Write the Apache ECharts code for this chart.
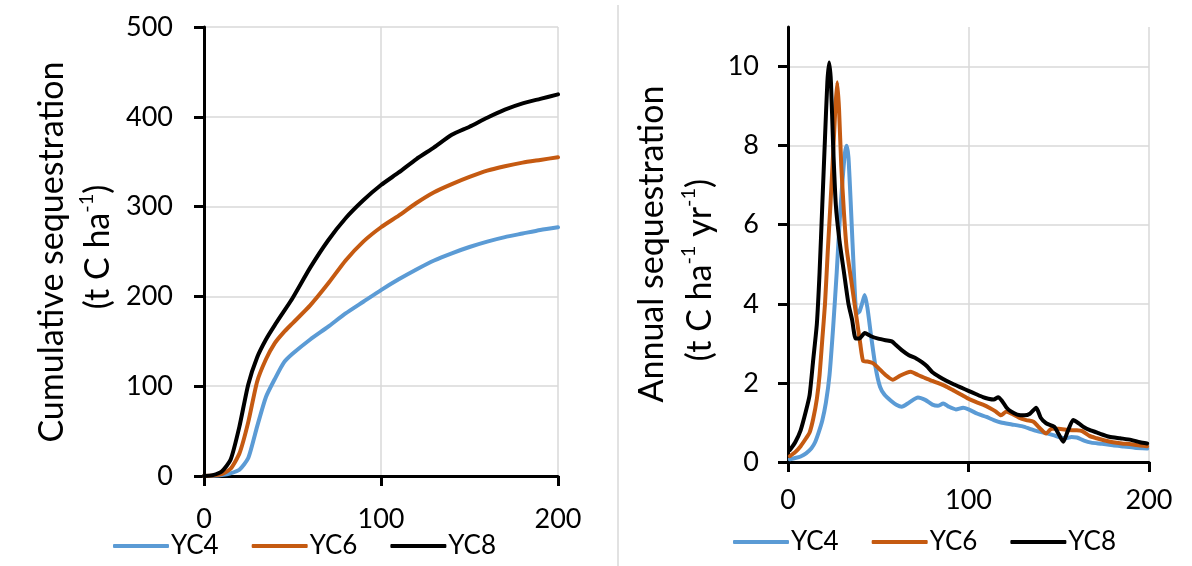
<!DOCTYPE html>
<html>
<head>
<meta charset="utf-8">
<script src="https://cdn.jsdelivr.net/npm/echarts@6/dist/echarts.min.js"></script>
<style>
html,body{margin:0;padding:0;background:#fff;}
#chart{width:1192px;height:566px;}
</style>
</head>
<body>
<div id="chart"></div>
<script>
// ---------- DATA ----------
const seriesNames = ['YC4', 'YC6', 'YC8'];
const xTicks = [0, 100, 200];
const cumYTicks = [0, 100, 200, 300, 400, 500];
const annYTicks = [0, 2, 4, 6, 8, 10];

// Cumulative sequestration (t C ha-1)
const cumYears = [0, 5, 10, 15, 20, 25, 30, 35, 40, 45, 50, 60, 70, 80, 90, 100, 110, 120, 130, 140, 150, 160, 170, 180, 190, 200];
const cumYC4 = [0, 0.2, 1, 3, 7, 20, 55, 88, 108, 126, 136, 152, 166, 181, 194, 207, 219, 230, 240, 248, 255, 261, 266, 270, 274, 277];
const cumYC6 = [0, 0.5, 2, 8, 25, 60, 105, 130, 148, 160, 170, 190, 214, 240, 261, 277, 290, 304, 316, 325, 333, 340, 345, 349, 352, 355];
const cumYC8 = [0, 1, 5, 18, 55, 102, 132, 152, 168, 183, 198, 232, 262, 287, 307, 324, 338, 353, 366, 380, 389, 399, 408, 415, 420, 425];

// Annual sequestration (t C ha-1 yr-1)
const annYearsYC4 = [1, 4, 7, 10, 13, 15, 17, 19, 21, 23, 25, 27, 28.5, 30, 31.5, 32.5, 33.5, 35, 36.5, 38, 39.5, 41, 42.5, 44, 46, 48.5, 51, 53.5, 57, 60, 63, 67, 72, 76, 80, 83, 86, 89, 93, 97, 100, 105, 110, 114, 118, 124, 130, 134, 138, 143, 147, 151, 154, 157, 160, 164, 168, 174, 180, 186, 192, 199];
const annYC4 = [0.07, 0.1, 0.14, 0.22, 0.35, 0.5, 0.75, 1.05, 1.5, 2.2, 3.4, 4.8, 6.0, 7.0, 7.8, 8.0, 7.7, 6.3, 4.8, 3.75, 3.8, 4.0, 4.22, 3.9, 3.2, 2.4, 1.9, 1.7, 1.55, 1.45, 1.4, 1.5, 1.63, 1.57, 1.45, 1.42, 1.48, 1.4, 1.33, 1.37, 1.33, 1.22, 1.14, 1.06, 1.0, 0.95, 0.9, 0.84, 0.78, 0.73, 0.68, 0.62, 0.6, 0.63, 0.62, 0.54, 0.49, 0.46, 0.42, 0.39, 0.36, 0.34];

const annYearsYC6 = [1, 4, 7, 10, 12, 14, 16, 17.5, 19, 20.5, 22, 23.5, 25, 26.3, 27.3, 28.3, 29.5, 31, 32.5, 35, 37.5, 40, 41.7, 44, 47, 50, 54, 58, 62, 66, 68, 72, 76, 80, 84, 88, 92, 96, 100, 104, 108, 112, 115, 118, 121, 124, 128, 132, 136, 139, 143, 146, 150, 155, 160, 163, 167, 171, 175, 180, 185, 190, 195, 199];
const annYC6 = [0.15, 0.25, 0.4, 0.6, 0.75, 1.1, 1.6, 2.2, 3.1, 4.0, 5.3, 6.5, 7.8, 9.0, 9.6, 8.9, 7.5, 6.3, 5.4, 4.6, 3.8, 3.0, 2.55, 2.54, 2.5, 2.38, 2.2, 2.08, 2.18, 2.26, 2.28, 2.2, 2.12, 2.05, 1.98, 1.9, 1.8, 1.7, 1.6, 1.52, 1.45, 1.36, 1.28, 1.18, 1.28, 1.22, 1.12, 1.06, 1.02, 0.88, 0.72, 0.84, 0.84, 0.81, 0.8, 0.78, 0.66, 0.6, 0.55, 0.5, 0.47, 0.45, 0.42, 0.4];

const annYearsYC8 = [1, 4, 7, 10, 12, 14, 16, 17.5, 19, 20.5, 21.8, 22.8, 23.8, 25, 26.5, 28.5, 31, 33.5, 35.5, 37.5, 39.5, 42.5, 46, 50, 54, 57.5, 60, 63, 67, 71, 74, 77, 80, 84, 88, 92, 96, 100, 104, 108, 111, 114, 116.5, 118.5, 121, 123.5, 127, 131, 134, 137.5, 140, 143, 147.5, 150, 152.5, 155, 158, 161, 164, 167, 172, 178, 184, 190, 195, 199];
const annYC8 = [0.3, 0.5, 0.8, 1.3, 1.7, 2.6, 3.5, 4.8, 6.5, 8.2, 9.6, 10.1, 9.6, 8.0, 6.5, 5.6, 4.8, 4.0, 3.6, 3.12, 3.12, 3.26, 3.18, 3.12, 3.08, 3.05, 2.95, 2.83, 2.7, 2.62, 2.53, 2.42, 2.27, 2.15, 2.05, 1.96, 1.88, 1.8, 1.72, 1.64, 1.6, 1.58, 1.64, 1.55, 1.38, 1.28, 1.2, 1.18, 1.22, 1.37, 1.12, 0.98, 0.89, 0.7, 0.51, 0.78, 1.06, 0.98, 0.88, 0.81, 0.73, 0.64, 0.6, 0.56, 0.5, 0.47];

// ---------- STYLE ----------
const colors = ['#5B9BD5', '#C55A11', '#000000'];
const FONT = 'Lato';
const pairs = (xs, ys) => xs.map((x, i) => [x, ys[i]]);

const chart = echarts.init(document.getElementById('chart'), null, {renderer: 'canvas'});

function xAxisCfg(gridIndex, margin) {
  return {
    type: 'value', gridIndex: gridIndex, min: xTicks[0], max: xTicks[xTicks.length - 1], interval: 100,
    axisLine: {show: true, onZero: false, lineStyle: {color: '#000', width: 3}},
    axisTick: {show: true, inside: false, length: 10, lineStyle: {color: '#000', width: 3}},
    axisLabel: {color: '#000', fontSize: 27, fontFamily: FONT, margin: margin},
    splitLine: {show: true, lineStyle: {color: '#d9d9d9', width: 1.5}}
  };
}

const seriesStyle = (i) => ({
  type: 'line', showSymbol: false, symbol: 'none', smooth: 0.2,
  lineStyle: {color: colors[i], width: 4, cap: 'round', join: 'round'},
  itemStyle: {color: colors[i]},
  emphasis: {disabled: true}
});

const legendCfg = (left, top) => ({
  data: seriesNames, left: left, top: top, orient: 'horizontal',
  icon: 'roundRect', itemWidth: 56, itemHeight: 4, itemGap: 33, padding: 0,
  textStyle: {color: '#000', fontSize: 26, fontFamily: FONT, padding: [0, 0, 0, -3]}
});

const option = {
  backgroundColor: '#fff',
  animation: false,
  textStyle: {fontFamily: FONT},
  grid: [
    {left: 204, right: 634, top: 27, bottom: 90},
    {left: 788, right: 43, top: 27, bottom: 104}
  ],
  legend: [legendCfg(113, 533), legendCfg(733, 529)],
  xAxis: [xAxisCfg(0, 30), xAxisCfg(1, 25)],
  yAxis: [
    {
      type: 'value', gridIndex: 0, min: 0, max: 500, interval: 100,
      axisLine: {show: true, onZero: false, lineStyle: {color: '#000', width: 3}},
      axisTick: {show: true, length: 10, lineStyle: {color: '#000', width: 3}},
      axisLabel: {color: '#000', fontSize: 27, fontFamily: FONT, margin: 31},
      splitLine: {show: true, lineStyle: {color: '#d9d9d9', width: 1.5}}
    },
    {
      type: 'value', gridIndex: 1, min: 0, max: 11, interval: 2,
      axisLine: {show: true, onZero: false, lineStyle: {color: '#000', width: 3}},
      axisTick: {show: true, length: 10, customValues: annYTicks, lineStyle: {color: '#000', width: 3}},
      axisLabel: {color: '#000', fontSize: 27, fontFamily: FONT, margin: 29, customValues: annYTicks},
      splitLine: {show: true, lineStyle: {color: '#d9d9d9', width: 1.5}}
    }
  ],
  graphic: [
    {type: 'line', shape: {x1: 618, y1: 5, x2: 618, y2: 566}, style: {stroke: '#d9d9d9', lineWidth: 1.5}, silent: true},
    {type: 'text', x: 52, y: 252, rotation: Math.PI / 2,
      style: {text: 'Cumulative sequestration', fontSize: 34, fontFamily: FONT, fill: '#000', align: 'center', verticalAlign: 'middle'}},
    {type: 'text', x: 98, y: 247, rotation: Math.PI / 2,
      style: {text: '(t C ha{s|-1})', fontSize: 34, lineHeight: 42, fontFamily: FONT, fill: '#000', align: 'center', verticalAlign: 'middle',
        rich: {s: {fontSize: 20, fontFamily: FONT, fill: '#000', verticalAlign: 'top', lineHeight: 22}}}},
    {type: 'text', x: 652, y: 244, rotation: Math.PI / 2,
      style: {text: 'Annual sequestration', fontSize: 34, fontFamily: FONT, fill: '#000', align: 'center', verticalAlign: 'middle'}},
    {type: 'text', x: 700, y: 270, rotation: Math.PI / 2,
      style: {text: '(t C ha{s|-1} yr{s|-1})', fontSize: 34, lineHeight: 42, fontFamily: FONT, fill: '#000', align: 'center', verticalAlign: 'middle',
        rich: {s: {fontSize: 20, fontFamily: FONT, fill: '#000', verticalAlign: 'top', lineHeight: 22}}}}
  ],
  series: [
    Object.assign({name: 'YC4', xAxisIndex: 0, yAxisIndex: 0, data: pairs(cumYears, cumYC4)}, seriesStyle(0)),
    Object.assign({name: 'YC6', xAxisIndex: 0, yAxisIndex: 0, data: pairs(cumYears, cumYC6)}, seriesStyle(1)),
    Object.assign({name: 'YC8', xAxisIndex: 0, yAxisIndex: 0, data: pairs(cumYears, cumYC8)}, seriesStyle(2)),
    Object.assign({name: 'YC4', xAxisIndex: 1, yAxisIndex: 1, data: pairs(annYearsYC4, annYC4)}, seriesStyle(0)),
    Object.assign({name: 'YC6', xAxisIndex: 1, yAxisIndex: 1, data: pairs(annYearsYC6, annYC6)}, seriesStyle(1)),
    Object.assign({name: 'YC8', xAxisIndex: 1, yAxisIndex: 1, data: pairs(annYearsYC8, annYC8)}, seriesStyle(2))
  ]
};
chart.setOption(option);
</script>
</body>
</html>
